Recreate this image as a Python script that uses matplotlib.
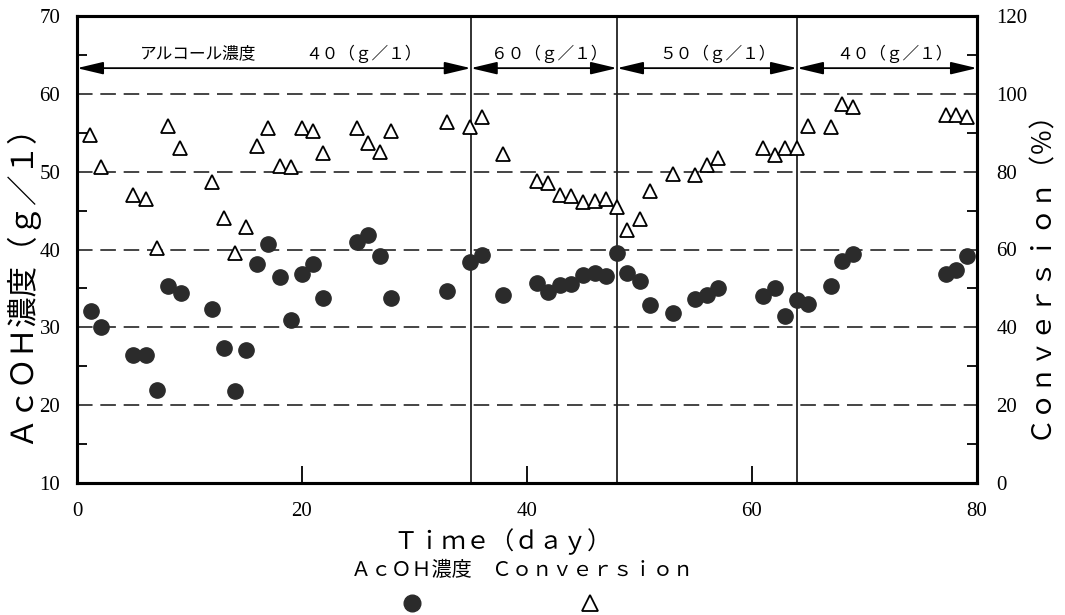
import matplotlib
matplotlib.use("Agg")
import matplotlib.pyplot as plt
from matplotlib.lines import Line2D

# ---- data ----
days = [1.2, 2.1, 5.0, 6.1, 7.1, 8.1, 9.2, 12.0, 13.1, 14.0, 15.0, 16.0, 17.0,
        18.0, 19.0, 20.0, 21.0, 21.9, 24.9, 25.9, 26.9, 27.9, 32.9, 34.9, 36.0,
        37.9, 40.9, 41.9, 42.9, 43.9, 45.0, 46.0, 47.0, 48.0, 48.9, 50.0, 50.9,
        53.0, 54.9, 56.0, 57.0, 61.0, 62.0, 62.9, 64.0, 65.0, 67.0, 68.0, 69.0,
        77.2, 78.1, 79.1]

acoh = [32.1, 30.1, 26.4, 26.4, 21.9, 35.3, 34.4, 32.3, 27.4, 21.8, 27.1, 38.1,
        40.7, 36.5, 30.9, 36.9, 38.1, 33.8, 40.9, 41.8, 39.2, 33.8, 34.7, 38.4,
        39.3, 34.2, 35.7, 34.5, 35.4, 35.6, 36.7, 37.0, 36.6, 39.5, 37.0, 35.9,
        32.9, 31.8, 33.7, 34.1, 35.1, 34.0, 35.0, 31.5, 33.5, 33.0, 35.3, 38.5,
        39.4, 36.9, 37.4, 39.2]

conversion = [89.4, 81.1, 74.0, 73.0, 60.3, 91.7, 86.0, 77.4, 68.1, 59.0, 65.7,
              86.7, 91.3, 81.5, 81.3, 91.1, 90.4, 84.7, 91.3, 87.3, 85.1, 90.5,
              92.8, 91.5, 94.1, 84.5, 77.6, 77.0, 74.0, 73.7, 72.3, 72.4, 73.0,
              70.8, 65.0, 67.8, 75.1, 79.4, 79.1, 81.7, 83.4, 86.1, 84.4, 86.1,
              86.1, 91.7, 91.5, 97.3, 96.5, 94.6, 94.6, 94.0]

# alcohol feed concentration periods
period_edges = [0, 35, 48, 64, 80]
period_labels = ["４０（ｇ／１）", "６０（ｇ／１）", "５０（ｇ／１）", "４０（ｇ／１）"]

x_ticks = [0, 20, 40, 60, 80]
left_ticks = [10, 20, 30, 40, 50, 60, 70]
right_ticks = [0, 20, 40, 60, 80, 100, 120]

JP = ["Noto Sans CJK JP", "DejaVu Sans"]
NUM = "Liberation Serif"

fig = plt.figure(figsize=(10.65, 6.15), dpi=100)
ax = fig.add_axes([77 / 1065, 1 - 483 / 615, 900 / 1065, 467 / 615])
ax2 = ax.twinx()

ax.set_xlim(0, 80)
ax.set_ylim(10, 70)
ax2.set_ylim(0, 120)

# dashed grid
for v in left_ticks[1:-1]:
    ax.axhline(v, color="#444444", lw=1.4, ls=(0, (8, 4)), zorder=1)

# period boundaries
for b in period_edges[1:-1]:
    ax.axvline(b, color="#222222", lw=1.3, zorder=1)

ax.plot(days, acoh, "o", ms=11, color="#2b2b2b", mec="#2b2b2b", zorder=3)
ax2.plot(days, conversion, "^", ms=10.5, mfc="white", mec="black", mew=1.3, zorder=3)

# period arrows and labels
arrow_y = 63.3
for i in range(len(period_labels)):
    a, b = period_edges[i], period_edges[i + 1]
    ax.annotate("", xy=(b, arrow_y), xytext=(a, arrow_y),
                arrowprops=dict(arrowstyle="<|-|>,head_length=1.6,head_width=0.38",
                                color="black", lw=1.3, shrinkA=0, shrinkB=0))
label_x = [25.5, 42.0, 56.9, 72.7]
for lx, lab in zip(label_x, period_labels):
    ax.text(lx, 65.1, lab, ha="center", va="center", fontsize=12, family=JP)
ax.text(10.8, 65.1, "アルコール濃度", ha="center", va="center", fontsize=12, family=JP)

# ticks
ax.set_xticks(x_ticks)
ax.set_xticklabels([str(t) for t in x_ticks], family=NUM, fontsize=15)
ax.set_yticks(left_ticks)
ax.set_yticklabels([str(t) for t in left_ticks], family=NUM, fontsize=15)
ax.set_yticks([15, 25, 35, 45, 55, 65], minor=True)
ax.tick_params(axis="x", direction="in", length=12, width=1.3, pad=14)
ax.tick_params(axis="y", which="major", direction="in", length=0, pad=12)
ax.tick_params(axis="y", which="minor", direction="in", length=7, width=1.3)

ax2.set_yticks(right_ticks)
ax2.set_yticklabels([str(t) for t in right_ticks], family=NUM, fontsize=15)
ax2.set_yticks([10, 30, 50, 70, 90, 110], minor=True)
ax2.tick_params(axis="y", which="major", direction="in", length=0, pad=14)
ax2.tick_params(axis="y", which="minor", direction="in", length=7, width=1.3)

for a in (ax, ax2):
    for s in a.spines.values():
        s.set_linewidth(2.2)

# axis labels
fig.text(20 / 1065, 1 - 276 / 615, "ＡｃＯＨ濃度（ｇ／１）", rotation=90,
         ha="center", va="center", fontsize=22, family=JP)
fig.text(1040 / 1065, 1 - 268 / 615, "Ｃｏｎｖｅｒｓｉｏｎ（％）", rotation=90,
         ha="center", va="center", fontsize=19, family=JP)
fig.text(503 / 1065, 1 - 542 / 615, "Ｔｉｍｅ（ｄａｙ）", ha="center", va="center",
         fontsize=17.5, family=JP)

# legend below the axis
fig.text(522 / 1065, 1 - 571 / 615, "ＡｃＯＨ濃度　Ｃｏｎｖｅｒｓｉｏｎ",
         ha="center", va="center", fontsize=14.5, family=JP)
fig.add_artist(Line2D([412 / 1065], [1 - 603 / 615], marker="o", ms=12,
                      color="#2b2b2b", transform=fig.transFigure))
fig.add_artist(Line2D([590 / 1065], [1 - 603 / 615], marker="^", ms=12,
                      mfc="white", mec="black", mew=1.3, transform=fig.transFigure))

fig.savefig("out.png", dpi=100)
